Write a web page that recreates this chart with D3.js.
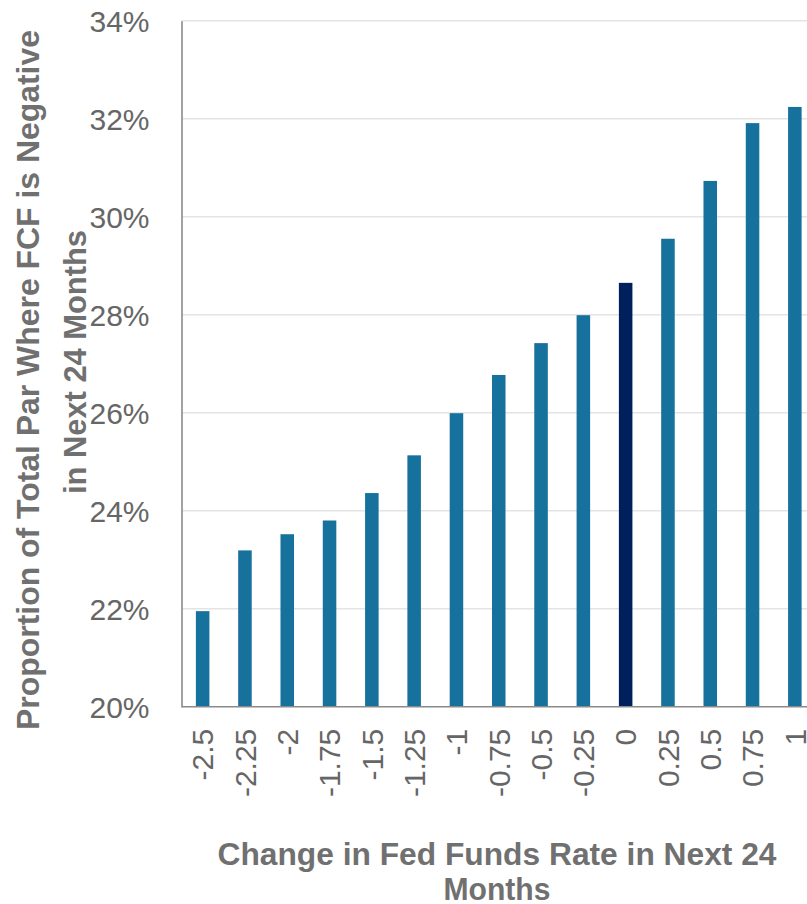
<!DOCTYPE html>
<html>
<head>
<meta charset="utf-8">
<script src="https://cdn.jsdelivr.net/npm/d3@7"></script>
<style>
  body { margin: 0; background: #fff; }
  svg { display: block; font-family: 'Liberation Sans', Arial, sans-serif; }
  .tick text { fill: #666; font-size: 30px; }
</style>
</head>
<body>
<div id="chart"></div>
<script>
'use strict';
// Chart data
const rateChanges = ['-2.5', '-2.25', '-2', '-1.75', '-1.5', '-1.25', '-1', '-0.75', '-0.5', '-0.25', '0', '0.25', '0.5', '0.75', '1']
const negativeFcfPct = [21.95, 23.19, 23.52, 23.80, 24.36, 25.13, 25.99, 26.77, 27.42, 27.99, 28.65, 29.55, 30.73, 31.91, 32.24]
const highlightCategory = '0'
const yTicks = [20, 22, 24, 26, 28, 30, 32, 34]
const yTitleLines = ['Proportion of Total Par Where FCF is Negative', 'in Next 24 Months']
const xTitleLines = ['Change in Fed Funds Rate in Next 24', 'Months']

const width = 807
const height = 904
const plot = { left: 181.5, right: 816, top: 20.7, bottom: 706.7 }

const x = d3.scaleBand().domain(rateChanges).range([plot.left, plot.right]).paddingInner(0.68).paddingOuter(0.34)
const y = d3.scaleLinear().domain([20, 34]).range([plot.bottom, plot.top])

const svg = d3.select('#chart')
  .append('svg')
  .attr('width', width)
  .attr('height', height)

// Horizontal gridlines
svg.append('g')
  .selectAll('line')
  .data(yTicks.filter(d => d !== 20))
  .join('line')
  .attr('x1', plot.left)
  .attr('x2', width)
  .attr('y1', d => y(d))
  .attr('y2', d => y(d))
  .attr('stroke', '#e4e4e4')
  .attr('stroke-width', 1.6)

// Bars
svg.append('g')
  .selectAll('rect')
  .data(rateChanges.map((c, i) => ({ c, v: negativeFcfPct[i] })))
  .join('rect')
  .attr('x', d => x(d.c))
  .attr('width', x.bandwidth())
  .attr('y', d => y(d.v))
  .attr('height', d => y(20) - y(d.v))
  .attr('fill', d => d.c === highlightCategory ? '#00205b' : '#17719d')

// Y axis
const yAxis = svg.append('g')
  .attr('transform', `translate(${plot.left},0)`)
  .call(d3.axisLeft(y).tickValues(yTicks).tickFormat(d => `${d}%`).tickSize(0).tickPadding(32))
yAxis.select('.domain').attr('stroke', '#8a8a8a').attr('stroke-width', 1.6)
yAxis.selectAll('.tick text').attr('dy', '0.36em')

// X axis
const xAxis = svg.append('g')
  .attr('transform', `translate(0,${plot.bottom})`)
  .call(d3.axisBottom(x).tickSize(0).tickPadding(0))
xAxis.select('.domain')
  .attr('d', `M${plot.left},0H${width}`)
  .attr('stroke', '#8a8a8a')
  .attr('stroke-width', 1.6)
xAxis.selectAll('.tick text')
  .attr('transform', 'rotate(-90)')
  .attr('text-anchor', 'end')
  .attr('x', -22)
  .attr('y', 0)
  .attr('dy', '0.36em')

// Y axis title (two lines, condensed bold)
const yTitle = svg.append('g').attr('transform', 'translate(0,380) rotate(-90)')
yTitle.selectAll('text')
  .data(yTitleLines)
  .join('text')
  .attr('x', (d, i) => i === 0 ? 0 : 18)
  .attr('y', (d, i) => 39 + i * 47)
  .attr('text-anchor', 'middle')
  .attr('fill', '#707070')
  .attr('font-weight', 'bold')
  .attr('font-size', 31)
  .attr('textLength', (d, i) => i === 0 ? 700 : 264)
  .attr('lengthAdjust', 'spacingAndGlyphs')
  .text(d => d)

// X axis title
svg.append('g')
  .selectAll('text')
  .data(xTitleLines)
  .join('text')
  .attr('x', 497)
  .attr('y', (d, i) => 865 + i * 35)
  .attr('text-anchor', 'middle')
  .attr('fill', '#707070')
  .attr('font-weight', 'bold')
  .attr('font-size', 31)
  .attr('textLength', (d, i) => i === 0 ? 559 : 107)
  .attr('lengthAdjust', 'spacingAndGlyphs')
  .text(d => d)
</script>
</body>
</html>
